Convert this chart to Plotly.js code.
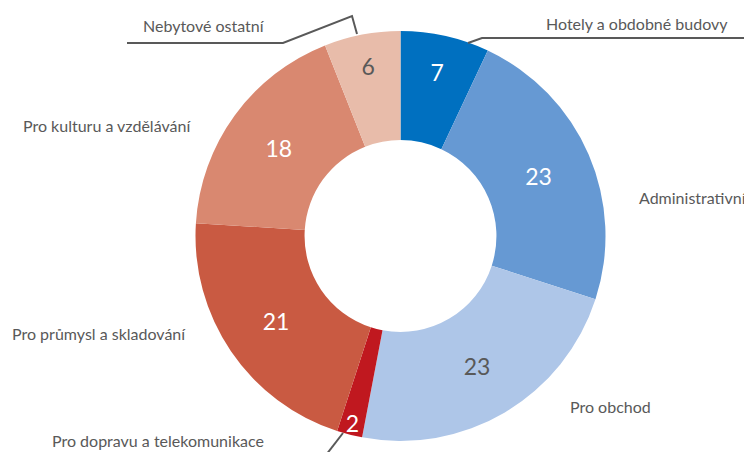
<!DOCTYPE html>
<html>
<head>
<meta charset="utf-8">
<script src="https://cdn.plot.ly/plotly-3.0.1.min.js"></script>
<style>html,body{margin:0;padding:0;background:#fff;}#chart{width:744px;height:452px;}</style>
</head>
<body>
<div id="chart"></div>
<script>
// Data
var categories = ["Hotely a obdobné budovy", "Administrativní", "Pro obchod", "Pro dopravu a telekomunikace", "Pro průmysl a skladování", "Pro kulturu a vzdělávání", "Nebytové ostatní"];
var values = [7, 23, 23, 2, 21, 18, 6];
var colors = ["#0070C0", "#6699D3", "#AEC6E8", "#C0181F", "#C95A42", "#D98870", "#E8BCAA"];
var valueTextColors = ["#ffffff", "#ffffff", "#595959", "#ffffff", "#ffffff", "#ffffff", "#595959"];

var W = 744, H = 452;
var cx = 400.5, cy = 236, R = 205;
function px(x) { return x / W; }
function py(y) { return 1 - y / H; }

// outside label placements (pixels): [x, y, xanchor]
var labelPos = [
  [730, 23, "right"],
  [637, 197, "left"],
  [568, 406, "left"],
  [50, 440, "left"],
  [10, 333, "left"],
  [21, 125, "left"],
  [141, 25, "left"]
];

var trace = {
  type: "pie",
  values: values,
  labels: categories,
  marker: { colors: colors, line: { width: 0 } },
  sort: false,
  direction: "clockwise",
  rotation: 0,
  hole: 0.468,
  textinfo: "value",
  textposition: "inside",
  insidetextorientation: "horizontal",
  insidetextfont: { family: "Lato, 'Noto Sans', sans-serif", size: 23, color: valueTextColors },
  showlegend: false,
  hoverinfo: "label+value",
  domain: { x: [px(cx - R), px(cx + R)], y: [py(cy + R), py(cy - R)] }
};

var annotations = categories.map(function (c, i) {
  var p = labelPos[i];
  return {
    text: c, xref: "paper", yref: "paper",
    x: px(p[0]), y: py(p[1]), xanchor: p[2], yanchor: "middle",
    showarrow: false,
    font: { family: "Lato, 'Noto Sans', sans-serif", size: 16, color: "#595959" }
  };
});

function pathPx(pts) {
  return pts.map(function (p, i) { return (i ? "L" : "M") + px(p[0]) + "," + py(p[1]); }).join(" ");
}
var lineStyle = { color: "#595959", width: 2 };
var shapes = [
  { type: "path", xref: "paper", yref: "paper", path: pathPx([[127, 43], [283, 43], [352, 16], [357, 34]]), line: lineStyle },
  { type: "path", xref: "paper", yref: "paper", path: pathPx([[468, 43], [482, 38], [744, 38]]), line: lineStyle },
  { type: "path", xref: "paper", yref: "paper", path: pathPx([[343, 433], [326, 455]]), line: lineStyle }
];

var layout = {
  width: W, height: H,
  margin: { l: 0, r: 0, t: 0, b: 0 },
  paper_bgcolor: "#ffffff",
  plot_bgcolor: "#ffffff",
  uniformtext: { mode: "show", minsize: 23 },
  annotations: annotations,
  shapes: shapes
};

Plotly.newPlot("chart", [trace], layout, { displayModeBar: false, staticPlot: true });
</script>
</body>
</html>
